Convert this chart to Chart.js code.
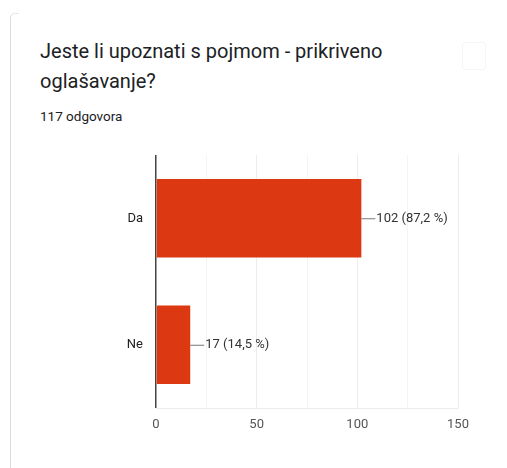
<!DOCTYPE html>
<html>
<head>
<meta charset="utf-8">
<script src="https://cdn.jsdelivr.net/npm/chart.js@4"></script>
<style>
  html, body { margin: 0; padding: 0; background: #fff; width: 507px; height: 468px; overflow: hidden; font-family: Roboto, "Noto Sans", sans-serif; }
  .card { position: absolute; left: 10px; top: 13px; width: 8px; height: 480px; border-left: 1px solid #dcdcdc; border-top: 1px solid #e6e6e6; border-top-left-radius: 5px; }
  .title { position: absolute; left: 40px; top: 36px; width: 420px; font-size: 20px; line-height: 30px; color: #202124; }
  .sub { position: absolute; left: 40px; top: 108px; font-size: 13.5px; color: #202124; }
  .icon { position: absolute; left: 462px; top: 42px; width: 22px; height: 26px; border: 1px solid #f5f5f5; border-radius: 3px; }
  #wrap { position: absolute; left: 0; top: 0; width: 507px; height: 468px; }
</style>
</head>
<body>
<div class="card"></div>
<div class="title">Jeste li upoznati s pojmom - prikriveno oglašavanje?</div>
<div class="sub">117 odgovora</div>
<div class="icon"></div>
<div id="wrap"><canvas id="chart"></canvas></div>
<script>
const categories = ['Da', 'Ne'];
const counts = [102, 17];
const percentLabels = ['87,2 %', '14,5 %'];
const xTicks = [0, 50, 100, 150];

// draws the "—102 (87,2 %)" labels next to the bars
const leaderLabels = {
  id: 'leaderLabels',
  afterDatasetsDraw(chart) {
    const ctx = chart.ctx;
    const meta = chart.getDatasetMeta(0);
    ctx.save();
    ctx.font = '13px Roboto';
    ctx.textBaseline = 'middle';
    meta.data.forEach((bar, i) => {
      const x = bar.x;
      const y = bar.y;
      ctx.strokeStyle = '#777';
      ctx.lineWidth = 1;
      ctx.beginPath();
      ctx.moveTo(x, y + 0.5);
      ctx.lineTo(x + 14, y + 0.5);
      ctx.stroke();
      ctx.fillStyle = '#333';
      ctx.fillText(counts[i] + ' (' + percentLabels[i] + ')', x + 15, y);
    });
    ctx.restore();
  }
};

new Chart(document.getElementById('chart'), {
  type: 'bar',
  data: {
    labels: categories,
    datasets: [{
      data: counts,
      backgroundColor: '#dc3912',
      barPercentage: 0.62,
      categoryPercentage: 1
    }]
  },
  options: {
    indexAxis: 'y',
    responsive: true,
    maintainAspectRatio: false,
    animation: false,
    layout: { padding: { left: 0, right: 49, top: 155, bottom: 0 } },
    plugins: { legend: { display: false }, tooltip: { enabled: false } },
    scales: {
      x: {
        min: 0,
        max: 150,
        afterFit: (scale) => { scale.height = 60; },
        ticks: {
          stepSize: 25,
          padding: 9,
          color: '#555',
          font: { family: 'Roboto', size: 13 },
          callback: (v) => xTicks.includes(v) ? v : ''
        },
        grid: {
          drawTicks: false,
          color: (c) => c.tick && c.tick.value === 0 ? '#444' : (c.tick && c.tick.value % 50 === 0 ? '#ededed' : '#f4f4f4'),
          lineWidth: (c) => c.tick && c.tick.value === 0 ? 1.5 : 1
        },
        border: { display: true, color: '#ededed' }
      },
      y: {
        afterFit: (scale) => { scale.width = 156; },
        ticks: {
          padding: 13,
          color: '#222',
          font: { family: 'Roboto', size: 13 }
        },
        grid: { display: false, drawTicks: false },
        border: { display: false }
      }
    }
  },
  plugins: [leaderLabels]
});
</script>
</body>
</html>
